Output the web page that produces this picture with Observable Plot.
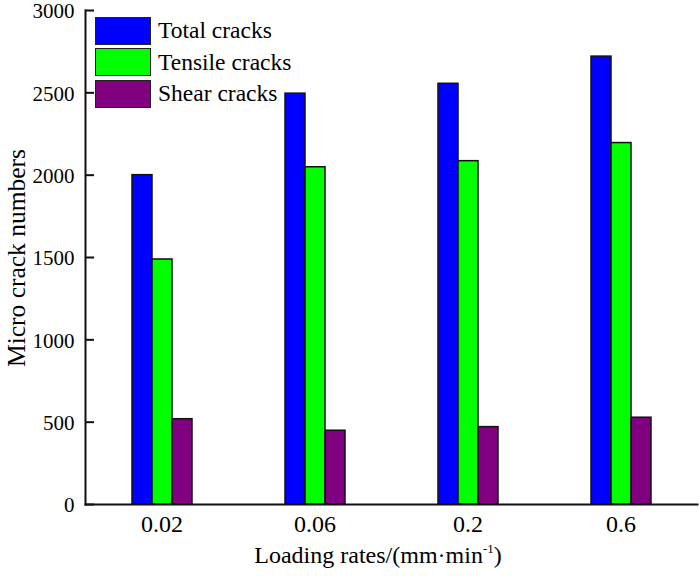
<!DOCTYPE html>
<html>
<head>
<meta charset="utf-8">
<script src="https://cdn.jsdelivr.net/npm/d3@7"></script>
<script src="https://cdn.jsdelivr.net/npm/@observablehq/plot@0.6"></script>
<style>
  html, body { margin: 0; padding: 0; background: #fff; }
  #wrap { position: relative; width: 699px; height: 576px; font-family: "Liberation Serif", "Times New Roman", serif; color: #000; }
  #wrap svg { position: absolute; left: 0; top: 0; overflow: visible; }
  .ylab { position: absolute; left: 17px; top: 258px; transform: translate(-50%, -50%) rotate(-90deg); font-size: 25.5px; white-space: nowrap; }
  .xlab { position: absolute; left: 378px; top: 555px; transform: translate(-50%, -50%); font-size: 24px; white-space: nowrap; }
  .xlab sup { font-size: 13px; vertical-align: 10px; line-height: 0; }
  .legend { position: absolute; left: 95px; top: 15px; }
  .legend .item { display: flex; align-items: center; height: 31.5px; }
  .legend .sw { width: 54px; height: 26px; border: 1.5px solid #222; box-sizing: content-box; margin-right: 7px; }
  .legend .tx { font-size: 23.5px; }
</style>
</head>
<body>
<div id="wrap"></div>
<script>
// Loading rates (mm/min) and micro crack counts per crack type
const rates = ["0.02", "0.06", "0.2", "0.6"];
const series = ["Total cracks", "Tensile cracks", "Shear cracks"];
const colors = ["#0000ff", "#00ff00", "#800080"];
const totalCracks = [2000, 2495, 2555, 2720];
const tensileCracks = [1488, 2048, 2085, 2195];
const shearCracks = [518, 448, 470, 527];
const yTicks = [0, 500, 1000, 1500, 2000, 2500, 3000];

const rows = [];
rates.forEach((r, i) => {
  rows.push({rate: r, type: series[0], value: totalCracks[i]});
  rows.push({rate: r, type: series[1], value: tensileCracks[i]});
  rows.push({rate: r, type: series[2], value: shearCracks[i]});
});

const chart = Plot.plot({
  width: 699,
  height: 576,
  marginLeft: 84,
  marginRight: 1,
  marginTop: 10,
  marginBottom: 72,
  style: {fontFamily: "Liberation Serif, Times New Roman, serif", color: "#000", background: "transparent"},
  // each loading rate fills one full-width column; the three bars sit centred in it
  fx: {domain: rates, paddingInner: 0, paddingOuter: 0, label: null},
  x: {domain: series, paddingInner: 0, paddingOuter: 2.155, axis: null},
  y: {domain: [0, 3000], label: null},
  color: {domain: series, range: colors},
  marks: [
    Plot.barY(rows, {fx: "rate", x: "type", y: "value", fill: "type", stroke: "#111", strokeWidth: 1.5}),
    // L-shaped axis lines spanning the whole plot area
    Plot.frame({anchor: "bottom", facet: "super", stroke: "#111", strokeWidth: 2}),
    Plot.frame({anchor: "left", facet: "super", stroke: "#111", strokeWidth: 2}),
    Plot.axisY({ticks: yTicks, tickSize: 9, dx: 9, text: null, strokeWidth: 2, stroke: "#111"}),
    Plot.axisY({ticks: yTicks, tickSize: 0, tickPadding: 11, dy: 1, fontSize: 21, label: null, tickFormat: d => String(d)}),
    Plot.axisFx({anchor: "bottom", tickSize: 0, tickPadding: 10, fontSize: 24, label: null})
  ]
});

const wrap = document.getElementById("wrap");
wrap.appendChild(chart);

const ylab = document.createElement("div");
ylab.className = "ylab";
ylab.textContent = "Micro crack numbers";
wrap.appendChild(ylab);

const xlab = document.createElement("div");
xlab.className = "xlab";
xlab.innerHTML = "Loading rates/(mm·min<sup>-1</sup>)";
wrap.appendChild(xlab);

const legend = document.createElement("div");
legend.className = "legend";
series.forEach((s, i) => {
  const item = document.createElement("div");
  item.className = "item";
  const sw = document.createElement("div");
  sw.className = "sw";
  sw.style.background = colors[i];
  const tx = document.createElement("span");
  tx.className = "tx";
  tx.textContent = s;
  item.appendChild(sw);
  item.appendChild(tx);
  legend.appendChild(item);
});
wrap.appendChild(legend);
</script>
</body>
</html>
